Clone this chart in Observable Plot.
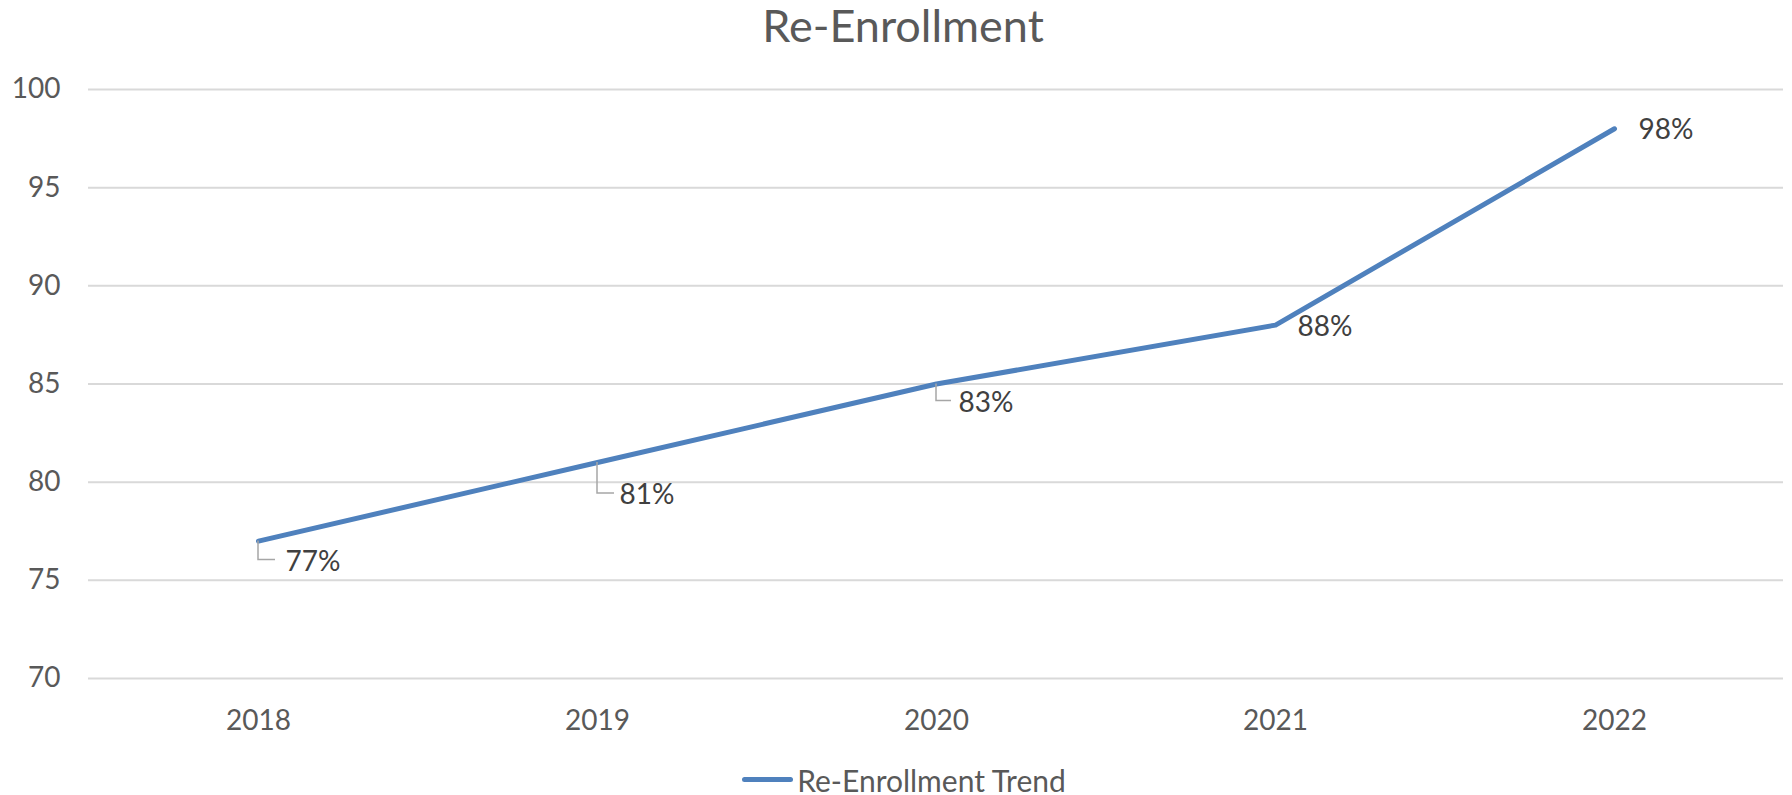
<!DOCTYPE html>
<html><head><meta charset="utf-8">
<script src="https://cdn.jsdelivr.net/npm/d3@7"></script>
<script src="https://cdn.jsdelivr.net/npm/@observablehq/plot@0.6"></script>
<style>
html,body{margin:0;padding:0;background:#fff;width:1792px;height:795px;overflow:hidden;font-family:Lato,"Open Sans",sans-serif;}
#title{height:50px;line-height:50px;text-align:center;font-size:45px;color:#595959;padding-left:14px;}
#legend{display:flex;justify-content:center;align-items:center;height:31px;margin-top:4px;font-size:30px;color:#595959;padding-left:16px;}
.swatch{display:inline-block;width:51px;height:5px;background:#4F81BD;border-radius:3px;margin-right:4px;}
#chart svg{display:block;}
</style></head><body>
<div id="title"></div>
<div id="chart"></div>
<div id="legend"><span class="swatch"></span><span id="legendText"></span></div>
<script>
const title = "Re-Enrollment";
const seriesName = "Re-Enrollment Trend";
const years = ["2018", "2019", "2020", "2021", "2022"];
const values = [77, 81, 85, 88, 98];
const labels = ["77%", "81%", "83%", "88%", "98%"];
const yTicks = [70, 75, 80, 85, 90, 95, 100];

// layout only (pixel offsets of data labels and leader lines)
const labelOffsets = [[27, 21], [22, 32], [22, 19], [22, 2], [24, 1]];
const leaders = [[19, 17], [31, 17], [17, 15], null, null];

document.getElementById("title").textContent = title;
document.getElementById("legendText").textContent = seriesName;

const data = years.map((year, i) => ({year, value: values[i], label: labels[i]}));

const chart = Plot.plot({
  width: 1792, height: 710,
  marginTop: 39, marginBottom: 82, marginLeft: 88, marginRight: 9,
  style: {fontFamily: "Lato, sans-serif", fontSize: "28px", color: "#595959", background: "#fff"},
  x: {type: "point", domain: years, padding: 0.5, label: null},
  y: {domain: [70, 100], label: null},
  marks: [
    Plot.gridY(yTicks, {stroke: "#d9d9d9", strokeOpacity: 1, strokeWidth: 2}),
    Plot.axisX({tickSize: 0, tickPadding: 32, label: null, fill: "#595959"}),
    Plot.axisY(yTicks, {tickSize: 0, tickPadding: 28, label: null, fill: "#595959"}),
    Plot.line(data, {x: "year", y: "value", stroke: "#4F81BD", strokeWidth: 5, strokeLinecap: "round", strokeLinejoin: "round"}),
    ...data.map((d, i) => Plot.text([d], {
      x: "year", y: "value", text: "label",
      dx: labelOffsets[i][0], dy: labelOffsets[i][1],
      textAnchor: "start", lineAnchor: "middle", fill: "#404040", fontSize: 28
    }))
  ]
});

const sx = chart.scale("x"), sy = chart.scale("y");
const svg = d3.select(chart);
data.forEach((d, i) => {
  const l = leaders[i];
  if (!l) return;
  const px = sx.apply(d.year), py = sy.apply(d.value);
  svg.append("path")
    .attr("d", `M${px},${py}V${py + l[0]}H${px + l[1]}`)
    .attr("fill", "none").attr("stroke", "#a6a6a6").attr("stroke-width", 1.5);
});

document.getElementById("chart").appendChild(chart);
</script>
</body></html>
